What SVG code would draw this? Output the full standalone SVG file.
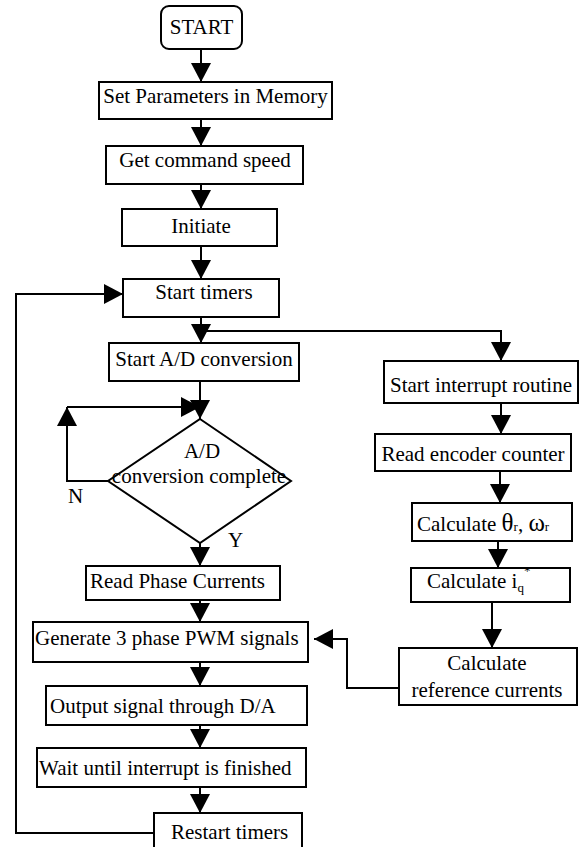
<svg xmlns="http://www.w3.org/2000/svg" width="581" height="847" viewBox="0 0 581 847">
<defs>
<style>
.box{fill:#fff;stroke:#000;stroke-width:2}
.t{font-family:"Liberation Serif","Times New Roman",serif;font-size:21px;fill:#000}
.c{fill:none;stroke:#000;stroke-width:2;marker-end:url(#ah)}
.l{fill:none;stroke:#000;stroke-width:2}
</style>
<marker id="ah" markerUnits="userSpaceOnUse" markerWidth="20" markerHeight="20" refX="19" refY="10" orient="auto">
<path d="M0,0 L19,10 L0,20 z" fill="#000"/>
</marker>
</defs>
<rect width="581" height="847" fill="#fff"/>
<g id="connectors">
<path class="c" d="M201,49 V82"/>
<path class="c" d="M201,119 V146"/>
<path class="c" d="M201,184 V209"/>
<path class="c" d="M201,246 V279"/>
<path class="c" d="M201,317 V343"/>
<path class="c" d="M201,331 H501 V361"/>
<path class="c" d="M501,403 V434"/>
<path class="c" d="M500,471 V503"/>
<path class="c" d="M498,541 V568"/>
<path class="c" d="M492,602 V648"/>
<path class="c" d="M399,688 H347 V639 H314"/>
<path class="c" d="M200,381 V419"/>
<path class="c" d="M108,481 H67 V407"/>
<path class="c" d="M67,407 H200"/>
<path class="c" d="M200,543 V566"/>
<path class="c" d="M200,600 V622"/>
<path class="c" d="M200,662 V686"/>
<path class="c" d="M200,725 V748"/>
<path class="c" d="M200,787 V813"/>
<path class="c" d="M154,833 H16 V294 H123"/>
</g>
<g id="start">
<rect class="box" x="161" y="6" width="81" height="43" rx="8"/>
<text class="t" x="201.5" y="34" text-anchor="middle">START</text>
</g>
<g id="set-params">
<rect class="box" x="99" y="82" width="233" height="37"/>
<text class="t" x="215.5" y="103" text-anchor="middle">Set Parameters in Memory</text>
</g>
<g id="get-speed">
<rect class="box" x="106" y="146" width="197" height="38"/>
<text class="t" x="205" y="167" text-anchor="middle">Get command speed</text>
</g>
<g id="initiate">
<rect class="box" x="122" y="209" width="155" height="37"/>
<text class="t" x="201" y="233" text-anchor="middle">Initiate</text>
</g>
<g id="start-timers">
<rect class="box" x="123" y="279" width="156" height="38"/>
<text class="t" x="204" y="299" text-anchor="middle">Start timers</text>
</g>
<g id="start-ad">
<rect class="box" x="109" y="343" width="190" height="38"/>
<text class="t" x="204" y="366" text-anchor="middle">Start A/D conversion</text>
</g>
<g id="ad-complete">
<polygon class="box" points="200,419 291,481 200,543 108,481"/>
<text class="t" x="202" y="458" text-anchor="middle">A/D</text>
<text class="t" x="199" y="483" text-anchor="middle">conversion complete</text>
<text class="t" x="68" y="503">N</text>
<text class="t" x="228" y="547">Y</text>
</g>
<g id="read-phase">
<rect class="box" x="86" y="566" width="194" height="34"/>
<text class="t" x="90" y="588">Read Phase Currents</text>
</g>
<g id="generate-pwm">
<rect class="box" x="33" y="622" width="275" height="40"/>
<text class="t" x="35" y="645">Generate 3 phase PWM signals</text>
</g>
<g id="output-da">
<rect class="box" x="46" y="686" width="261" height="39"/>
<text class="t" x="50" y="713">Output signal through D/A</text>
</g>
<g id="wait">
<rect class="box" x="37" y="748" width="269" height="39"/>
<text class="t" x="39" y="775">Wait until interrupt is finished</text>
</g>
<g id="restart-timers">
<rect class="box" x="154" y="813" width="148" height="40"/>
<text class="t" x="171" y="839">Restart timers</text>
</g>
<g id="start-interrupt">
<rect class="box" x="384" y="361" width="194" height="42"/>
<text class="t" x="481" y="392" text-anchor="middle">Start interrupt routine</text>
</g>
<g id="read-encoder">
<rect class="box" x="375" y="434" width="196" height="37"/>
<text class="t" x="473" y="461" text-anchor="middle">Read encoder counter</text>
</g>
<g id="calc-theta">
<rect class="box" x="412" y="503" width="160" height="38"/>
<text class="t" x="417" y="531">Calculate <tspan font-size="25">θ</tspan><tspan font-size="13">r</tspan>, <tspan font-size="25">ω</tspan><tspan font-size="13">r</tspan></text>
</g>
<g id="calc-iq">
<rect class="box" x="411" y="568" width="159" height="34"/>
<text class="t" x="427" y="588">Calculate i<tspan font-size="13" dy="4">q</tspan><tspan font-size="13" dy="-17">*</tspan></text>
</g>
<g id="calc-ref">
<rect class="box" x="399" y="648" width="178" height="57"/>
<text class="t" x="487" y="670" text-anchor="middle">Calculate</text>
<text class="t" x="487" y="697" text-anchor="middle">reference currents</text>
</g>
</svg>
